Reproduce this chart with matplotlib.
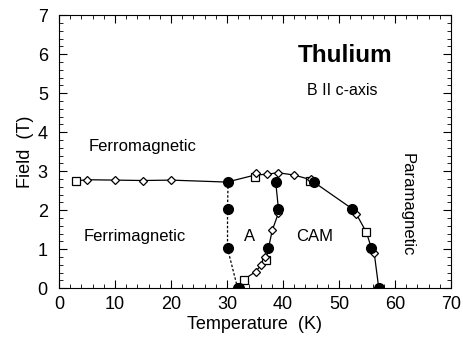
import matplotlib
matplotlib.use("Agg")
import matplotlib.pyplot as plt
from matplotlib.ticker import MultipleLocator

plt.rcParams['font.family'] = ['Liberation Sans', 'DejaVu Sans']

# phase boundary (upper line through all points)
top_x = [3, 5, 10, 15, 20, 30, 35, 37.1, 39.1, 42, 45, 45.5, 52.3, 53.1, 54.9, 55.8, 56.3, 57.1]
top_y = [2.75, 2.78, 2.77, 2.76, 2.77, 2.72, 2.9, 2.92, 2.96, 2.9, 2.78, 2.72, 2.04, 1.9, 1.43, 1.02, 0.89, 0.0]
# ferri / A boundary
left_x = [30.2, 30.1, 30.1, 31.9]
left_y = [2.72, 2.02, 1.02, 0.0]
# A / CAM boundary
mid_x = [38.7, 39.2, 39.2, 38.1, 37.4, 37.0, 36.8, 36.1, 35.1, 33.0]
mid_y = [2.72, 2.02, 1.93, 1.49, 1.02, 0.72, 0.8, 0.59, 0.42, 0.22]
mid_end_x = [33.0, 32.1]
mid_end_y = [0.22, 0.0]

# markers
sq_x = [3, 35.0, 44.8, 54.9, 37.0, 33.0]
sq_y = [2.75, 2.85, 2.75, 1.43, 0.72, 0.22]
dia_x = [5, 10, 15, 20, 35.1, 37.1, 39.1, 42, 45, 53.1, 56.3, 39.2, 38.1, 36.8, 36.1, 35.1]
dia_y = [2.78, 2.77, 2.76, 2.77, 2.95, 2.92, 2.96, 2.9, 2.8, 1.9, 0.89, 1.93, 1.49, 0.8, 0.59, 0.42]
circ_x = [30.2, 30.1, 30.1, 31.9, 38.7, 39.2, 37.4, 32.1, 45.5, 52.3, 55.8, 57.1]
circ_y = [2.72, 2.02, 1.02, 0.0, 2.72, 2.02, 1.02, 0.0, 2.72, 2.04, 1.02, 0.0]

fig = plt.figure(figsize=(4.64, 3.37), dpi=100)
ax = fig.add_axes([0.127, 0.145, 0.845, 0.81])

ax.plot(top_x, top_y, color='black', lw=0.9)
ax.plot(left_x, left_y, color='black', lw=0.9, ls=(0, (2, 1.5)))
ax.plot(mid_x, mid_y, color='black', lw=0.9)
ax.plot(mid_end_x, mid_end_y, color='black', lw=0.9, ls=(0, (2, 1.5)))

ax.plot(sq_x, sq_y, ls='none', marker='s', ms=5.5, mfc='white', mec='black', mew=0.9, zorder=3)
ax.plot(dia_x, dia_y, ls='none', marker='D', ms=4.5, mfc='white', mec='black', mew=0.9, zorder=4)
ax.plot(circ_x, circ_y, ls='none', marker='o', ms=7, mfc='black', mec='black', zorder=5)

ax.set_xlim(0, 70)
ax.set_ylim(0, 7)
ax.xaxis.set_major_locator(MultipleLocator(10))
ax.xaxis.set_minor_locator(MultipleLocator(2))
ax.yaxis.set_major_locator(MultipleLocator(1))
ax.yaxis.set_minor_locator(MultipleLocator(0.2))
ax.tick_params(which='both', direction='in', top=True, right=True, labelsize=13)
ax.tick_params(which='major', length=6, width=0.8)
ax.tick_params(which='minor', length=3, width=0.6)
ax.tick_params(axis='x', which='major', pad=6)
ax.tick_params(axis='y', which='major', pad=8)
for s in ax.spines.values():
    s.set_linewidth(0.8)

ax.set_xlabel('Temperature  (K)', fontsize=13, labelpad=2)
ax.set_ylabel('Field  (T)', fontsize=13, labelpad=3)

ax.text(51.1, 5.97, 'Thulium', fontsize=17.5, fontweight='bold', ha='center', va='center')
ax.text(50.5, 5.08, 'B II c-axis', fontsize=11.5, ha='center', va='center')
ax.text(15, 3.62, 'Ferromagnetic', fontsize=12, ha='center', va='center')
ax.text(13.6, 1.33, 'Ferrimagnetic', fontsize=12, ha='center', va='center')
ax.text(34, 1.33, 'A', fontsize=12, ha='center', va='center')
ax.text(45.7, 1.33, 'CAM', fontsize=12, ha='center', va='center')
ax.text(62.1, 2.15, 'Paramagnetic', fontsize=12, ha='center', va='center', rotation=-90)

fig.savefig('out.png', dpi=100)
